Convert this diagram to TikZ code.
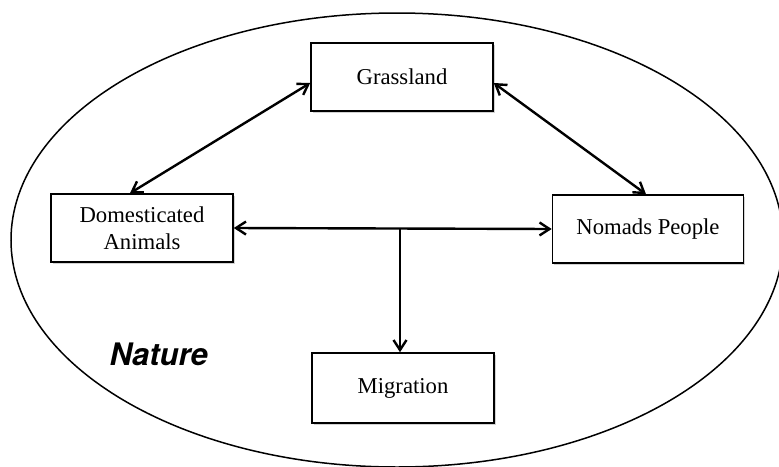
\documentclass[tikz,border=0pt]{standalone}
\usepackage{fontspec}
\setmainfont{Liberation Serif}
\newfontfamily\naturefont{TeX Gyre Heros}
\usetikzlibrary{arrows.meta,shadows}

\begin{document}
\begin{tikzpicture}[x=1pt,y=-1pt,>={Straight Barb[length=10pt,width=13pt,line width=2.4pt]},
	box/.style={draw,line width=1.6pt,fill=white,minimum width=182pt,minimum height=68pt,
		align=center,font=\fontsize{22.7}{27}\selectfont,
		drop shadow={shadow xshift=1.5pt,shadow yshift=-1.5pt,fill=black!35}},
	link/.style={line width=2.4pt,<->},
	naturetext/.style={anchor=base west,font=\naturefont\bfseries\itshape\fontsize{31}{31}\selectfont}]

	% Fix the frame of the picture
	\clip (0,0) rectangle (779,466);

	% Draw the nature ellipse
	\draw[line width=1.5pt] (397,240) ellipse [x radius=386, y radius=227];

	% Draw the label of the ellipse
	\node[naturetext] (nature) at (106,365) {Nature};

	% Draw the four boxes
	\node[box] (grass) at (402,77) {Grassland};
	\node[box] (dom) at (142,228) {Domesticated\\Animals};
	\node[box,minimum width=191pt] (nomads) at (648,229) {Nomads People};
	\node[box,minimum height=70pt] (mig) at (403,388) {Migration};

	% Draw the arrows from the grassland
	\draw[link] ([yshift=-6pt]grass.west) -- ([xshift=-12pt]dom.north);
	\draw[link] ([yshift=-6pt]grass.east) -- ([xshift=-2pt]nomads.north);

	% Draw the arrow between animals and people, and the branch to migration
	\draw[link] (dom.east) -- (nomads.west);
	\coordinate (fork) at (400,228);
	\draw[line width=2.4pt,->] (fork) -- (fork |- mig.north);

\end{tikzpicture}
\end{document}
